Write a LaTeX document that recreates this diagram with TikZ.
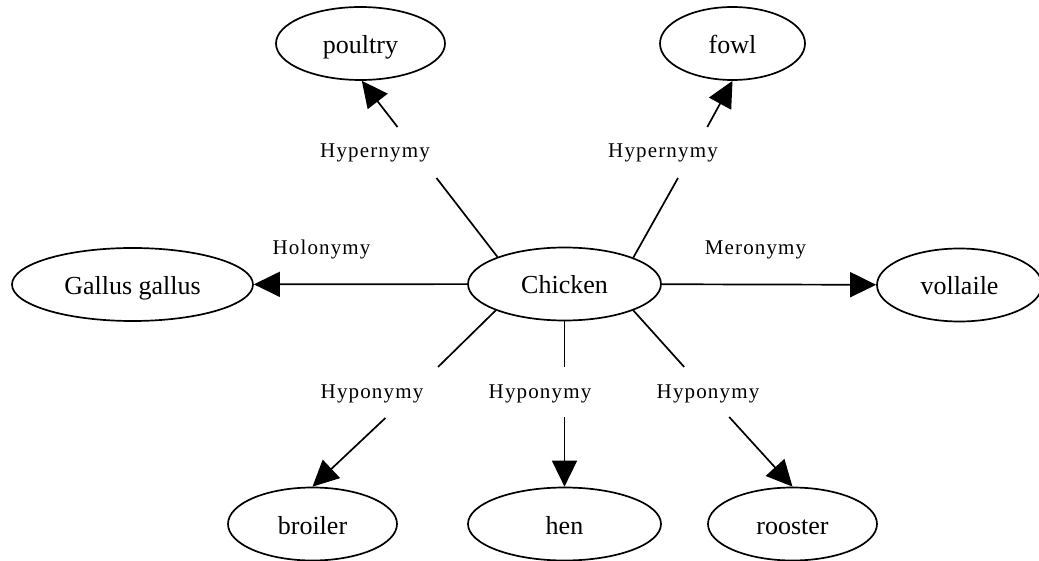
\documentclass[tikz,border=0pt]{standalone}
\usepackage{fontspec}
\setmainfont{Liberation Serif}
\newfontfamily\lblfont{Liberation Serif}[LetterSpace=5.5]
\usetikzlibrary{arrows.meta,shapes.geometric}
\begin{document}
\begin{tikzpicture}[x=1pt,y=-1pt,
  concept/.style={draw, ellipse, line width=1.7pt, inner sep=0pt, minimum height=73pt,
    text height=20pt, text depth=0pt, font=\fontsize{26}{30}\selectfont},
  rel/.style={font=\lblfont\fontsize{21}{25}\selectfont, inner sep=0pt},
  link/.style={line width=1.7pt},
  arr/.style={link, -{Triangle[length=26pt,width=25pt]}}]
\useasboundingbox (0,0) rectangle (1039,561);
% concepts
\node[concept, minimum width=169pt] (poultry) at (360.5,43.5) {poultry};
\node[concept, minimum width=145pt] (fowl) at (732.5,43.5) {fowl};
\node[concept, minimum width=241pt] (gallus) at (132.5,284.5) {Gallus gallus};
\node[concept, minimum width=193pt] (chicken) at (564.5,284) {Chicken};
\node[concept, minimum width=165pt] (vollaile) at (959.5,285) {vollaile};
\node[concept, minimum width=169pt] (broiler) at (312.5,524) {broiler};
\node[concept, minimum width=193pt] (hen) at (564.5,524) {hen};
\node[concept, minimum width=169pt] (rooster) at (792.5,524) {rooster};
% relation labels
\node[rel] (lhyper1) at (375,153) {Hypernymy};
\node[rel] (lhyper2) at (663,153) {Hypernymy};
\node[rel] (lholo) at (321.5,249) {Holonymy};
\node[rel] (lmero) at (755.5,250) {Meronymy};
\node[rel] (lhypo1) at (372,394) {Hyponymy};
\node[rel] (lhypo2) at (540,394) {Hyponymy};
\node[rel] (lhypo3) at (708,394) {Hyponymy};
% gap coordinates
\coordinate (g1a) at (436.5,178); \coordinate (g1b) at (397.5,127);
\coordinate (g2a) at (678,178);   \coordinate (g2b) at (707.3,127);
\coordinate (g3a) at (438,367);   \coordinate (g3b) at (385.4,418);
\coordinate (g4a) at (564.5,367); \coordinate (g4b) at (564.5,417);
\coordinate (g5a) at (684.2,367); \coordinate (g5b) at (729.2,417);
% edges
\draw[link] (chicken.158) -- (g1a);
\draw[arr] (g1b) -- (poultry.272);
\draw[link] (chicken.21.5) -- (g2a);
\draw[arr] (g2b) -- (fowl.south);
\draw[arr] (chicken) -- (gallus);
\draw[arr] (chicken) -- (vollaile);
\draw[link] (chicken.201) -- (g3a);
\draw[arr] (g3b) -- (broiler.north);
\draw[link] (chicken.south) -- (g4a);
\draw[arr] (g4b) -- (hen.north);
\draw[link] (chicken.339) -- (g5a);
\draw[arr] (g5b) -- (rooster.north);
\end{tikzpicture}
\end{document}
